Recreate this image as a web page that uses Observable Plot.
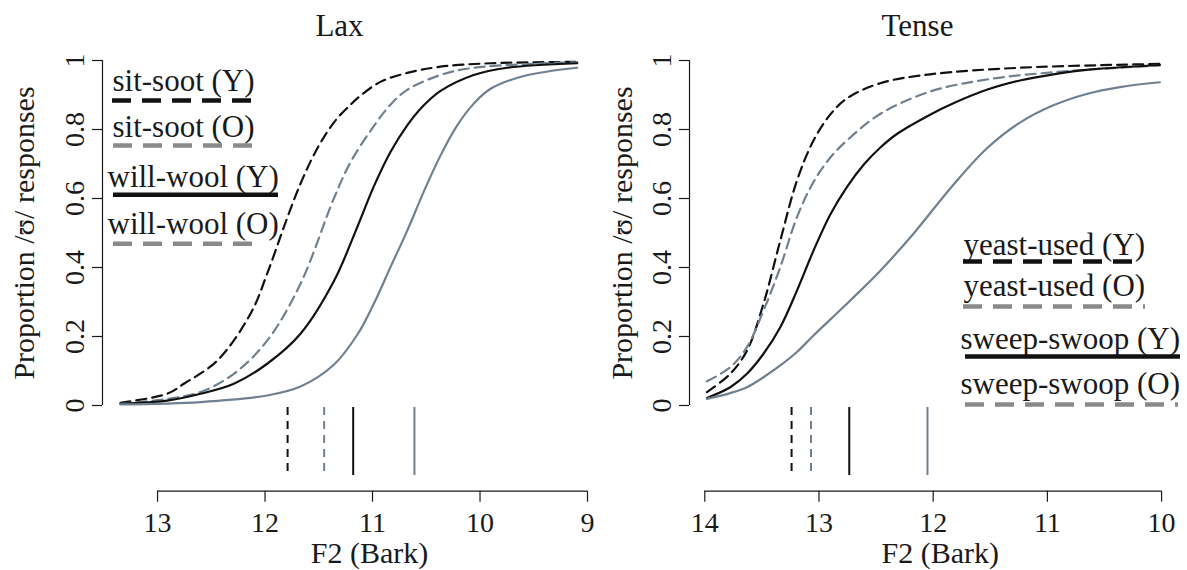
<!DOCTYPE html>
<html>
<head>
<meta charset="utf-8">
<script src="https://cdn.jsdelivr.net/npm/d3@7"></script>
<script src="https://cdn.jsdelivr.net/npm/@observablehq/plot@0.6"></script>
<style>
  html, body { margin: 0; padding: 0; background: #fff; }
  #chart { display: flex; width: 1187px; height: 570px; overflow: hidden; }
  #chart svg { flex: none; font-family: "Liberation Serif", "DejaVu Serif", serif; }
</style>
</head>
<body>
<div id="chart"></div>
<script>
// ---------------- DATA ----------------
const panelTitles = ["Lax", "Tense"];
const xTitle = "F2 (Bark)";
const yTitle = "Proportion /ʊ/ responses";
const yTicks = [0, 0.2, 0.4, 0.6, 0.8, 1];
const laxXTicks = [13, 12, 11, 10, 9];
const tenseXTicks = [14, 13, 12, 11, 10];

const laxLabels = ["sit-soot (Y)", "sit-soot (O)", "will-wool (Y)", "will-wool (O)"];
const tenseLabels = ["yeast-used (Y)", "yeast-used (O)", "sweep-swoop (Y)", "sweep-swoop (O)"];

// 50% crossover boundaries (Bark)
const laxCrossover = [11.79, 11.45, 11.18, 10.61];
const tenseCrossover = [13.24, 13.07, 12.735, 12.05];

// Lax: sit-soot (Y)
const laxSitSootY_F2 = [13.344, 12.910, 12.755, 12.445, 12.135, 11.980, 11.825, 11.670, 11.514, 11.360, 11.205, 11.112, 10.926, 10.677, 10.367, 9.902, 9.096];
const laxSitSootY_P  = [0.008, 0.034, 0.063, 0.130, 0.266, 0.382, 0.517, 0.643, 0.745, 0.820, 0.872, 0.898, 0.938, 0.964, 0.982, 0.992, 0.996];
// Lax: sit-soot (O)
const laxSitSootO_F2 = [13.344, 12.910, 12.600, 12.290, 11.980, 11.670, 11.360, 11.205, 10.988, 10.833, 10.677, 10.367, 10.058, 9.096];
const laxSitSootO_P  = [0.005, 0.019, 0.039, 0.092, 0.188, 0.353, 0.600, 0.705, 0.810, 0.872, 0.915, 0.958, 0.979, 0.995];
// Lax: will-wool (Y)
const laxWillWoolY_F2 = [13.344, 12.910, 12.600, 12.290, 11.980, 11.670, 11.360, 11.142, 10.988, 10.833, 10.677, 10.523, 10.367, 10.058, 9.747, 9.096];
const laxWillWoolY_P  = [0.005, 0.014, 0.034, 0.063, 0.121, 0.208, 0.360, 0.517, 0.635, 0.735, 0.812, 0.870, 0.912, 0.958, 0.979, 0.992];
// Lax: will-wool (O)
const laxWillWoolO_F2 = [13.344, 12.600, 11.980, 11.670, 11.360, 11.142, 10.988, 10.833, 10.677, 10.523, 10.367, 10.212, 10.058, 9.902, 9.593, 9.096];
const laxWillWoolO_P  = [0.003, 0.010, 0.029, 0.055, 0.118, 0.205, 0.295, 0.401, 0.507, 0.620, 0.725, 0.812, 0.875, 0.918, 0.955, 0.979];

// Tense: yeast-used (Y)
const tenseYeastY_F2 = [13.981, 13.777, 13.631, 13.486, 13.339, 13.193, 13.048, 12.902, 12.756, 12.465, 12.027, 11.240, 10.015];
const tenseYeastY_P  = [0.039, 0.092, 0.159, 0.295, 0.478, 0.652, 0.768, 0.843, 0.890, 0.934, 0.960, 0.979, 0.990];
// Tense: yeast-used (O)
const tenseYeastO_F2 = [13.981, 13.777, 13.631, 13.486, 13.339, 13.193, 13.048, 12.902, 12.756, 12.465, 12.027, 11.531, 10.948, 10.015];
const tenseYeastO_P  = [0.070, 0.111, 0.169, 0.275, 0.401, 0.546, 0.648, 0.718, 0.768, 0.845, 0.910, 0.945, 0.966, 0.986];
// Tense: sweep-swoop (Y)
const tenseSweepY_F2 = [13.981, 13.777, 13.631, 13.486, 13.339, 13.193, 13.048, 12.902, 12.756, 12.611, 12.465, 12.318, 12.027, 11.823, 11.531, 11.240, 10.948, 10.656, 10.015];
const tenseSweepY_P  = [0.022, 0.053, 0.092, 0.150, 0.227, 0.333, 0.449, 0.553, 0.633, 0.697, 0.747, 0.787, 0.843, 0.876, 0.915, 0.942, 0.960, 0.973, 0.987];
// Tense: sweep-swoop (O)
const tenseSweepO_F2 = [13.981, 13.777, 13.631, 13.486, 13.339, 13.193, 13.048, 12.756, 12.465, 12.173, 11.823, 11.531, 11.240, 10.948, 10.656, 10.365, 10.015];
const tenseSweepO_P  = [0.019, 0.036, 0.053, 0.082, 0.116, 0.155, 0.203, 0.295, 0.390, 0.498, 0.640, 0.745, 0.820, 0.870, 0.903, 0.923, 0.937];

// ---------------- STYLE / LAYOUT ----------------
const FONT = "Liberation Serif, DejaVu Serif, serif";
const INK = "#1a1a1a";
const BLACK = "#111111";
const BLUE = "#708090";
const GRAY = "#8a8a8a";
const curveStyles = [
  {stroke: BLACK, dash: "10,6"},
  {stroke: BLUE, dash: "10,6"},
  {stroke: BLACK, dash: null},
  {stroke: BLUE, dash: null}
];
const legendStyles = [
  {stroke: BLACK, dash: "19,11"},
  {stroke: GRAY, dash: "19,11"},
  {stroke: BLACK, dash: null},
  {stroke: GRAY, dash: "19,11"}
];

const H = 570;
const Y_PX0 = 405, Y_PX1 = 60, XAXIS_PX = 490.7;
const TICK_FS = 28, LABEL_FS = 30, TITLE_FS = 31, LEGEND_FS = 31;

function makeSeries(label, xs, ys) {
  return xs.map((x, i) => ({series: label, x, y: ys[i]}));
}

const panelsCfg = [
  {
    title: panelTitles[0], width: 594, axisPx: 102, xDomain: [13.512, 8.935],
    xTicks: laxXTicks, labels: laxLabels, crossover: laxCrossover,
    curves: [
      makeSeries(laxLabels[0], laxSitSootY_F2, laxSitSootY_P),
      makeSeries(laxLabels[1], laxSitSootO_F2, laxSitSootO_P),
      makeSeries(laxLabels[2], laxWillWoolY_F2, laxWillWoolY_P),
      makeSeries(laxLabels[3], laxWillWoolO_F2, laxWillWoolO_P)
    ],
    titlePx: 339, yTitlePx: 23.5, xTitleDx: -3,
    legend: [
      {tx: 112, base: 90, ly: 100, x1: 112, x2: 253},
      {tx: 112, base: 136.7, ly: 145, x1: 113, x2: 252},
      {tx: 107, base: 186.7, ly: 194.3, x1: 113, x2: 278},
      {tx: 107, base: 233.3, ly: 243.3, x1: 113, x2: 262}
    ]
  },
  {
    title: panelTitles[1], width: 593, axisPx: 95, xDomain: [14.134, 9.773],
    xTicks: tenseXTicks, labels: tenseLabels, crossover: tenseCrossover,
    curves: [
      makeSeries(tenseLabels[0], tenseYeastY_F2, tenseYeastY_P),
      makeSeries(tenseLabels[1], tenseYeastO_F2, tenseYeastO_P),
      makeSeries(tenseLabels[2], tenseSweepY_F2, tenseSweepY_P),
      makeSeries(tenseLabels[3], tenseSweepO_F2, tenseSweepO_P)
    ],
    titlePx: 323, yTitlePx: 27.7, xTitleDx: 7,
    legend: [
      {tx: 369, base: 254, ly: 261, x1: 369, x2: 548},
      {tx: 369, base: 295, ly: 306, x1: 369, x2: 551},
      {tx: 366, base: 348, ly: 356, x1: 371, x2: 586},
      {tx: 366, base: 393, ly: 404, x1: 371, x2: 584}
    ]
  }
];

function buildPanel(cfg) {
  const sx = d3.scaleLinear(cfg.xDomain, [cfg.axisPx, cfg.width]);
  const sy = d3.scaleLinear([0, 1], [Y_PX0, Y_PX1]);
  const yMin = sy.invert(XAXIS_PX);
  const x0 = cfg.xDomain[0];
  const yMid = d3.mean(d3.extent(yTicks));
  const xMid = d3.mean(d3.extent(cfg.xTicks));
  const mid = 0.32; // em shift for middle line anchor
  const T = {fontFamily: FONT, fill: INK, lineAnchor: "middle"};

  const marks = [];
  cfg.curves.forEach((data, i) => {
    marks.push(Plot.line(data, {
      x: "x", y: "y", stroke: curveStyles[i].stroke, strokeWidth: 2.2,
      strokeDasharray: curveStyles[i].dash, curve: "catmull-rom"
    }));
  });
  cfg.crossover.forEach((c, i) => {
    marks.push(Plot.ruleX([c], {
      x: d => d, y1: sy.invert(407), y2: sy.invert(475),
      stroke: curveStyles[i].stroke, strokeWidth: 2,
      strokeDasharray: curveStyles[i].dash ? "8,6" : null
    }));
  });
  // y axis
  marks.push(Plot.ruleX([x0], {y1: d3.min(yTicks), y2: d3.max(yTicks), stroke: INK, strokeWidth: 1.2}));
  marks.push(Plot.ruleY(yTicks, {y: d => d, x1: x0, x2: sx.invert(cfg.axisPx - 10), stroke: INK, strokeWidth: 1.2}));
  marks.push(Plot.text(yTicks, {
    ...T, x: x0, y: d => d, text: d => String(d), rotate: -90, dx: -27,
    fontSize: TICK_FS, textAnchor: "middle"
  }));
  marks.push(Plot.text([yTitle], {
    ...T, x: x0, y: yMid, text: d => d, rotate: -90, dx: cfg.yTitlePx - cfg.axisPx,
    fontSize: LABEL_FS, textAnchor: "middle"
  }));
  // x axis
  marks.push(Plot.ruleY([yMin], {y: d => d, x1: d3.max(cfg.xTicks), x2: d3.min(cfg.xTicks), stroke: INK, strokeWidth: 1.2}));
  marks.push(Plot.ruleX(cfg.xTicks, {x: d => d, y1: yMin, y2: sy.invert(XAXIS_PX + 11), stroke: INK, strokeWidth: 1.2}));
  marks.push(Plot.text(cfg.xTicks, {
    ...T, x: d => d, y: yMin, text: d => String(d), dy: 531 - XAXIS_PX - mid * TICK_FS,
    fontSize: TICK_FS, textAnchor: "middle"
  }));
  marks.push(Plot.text([xTitle], {
    ...T, x: xMid, y: yMin, text: d => d, dx: cfg.xTitleDx, dy: 562.5 - XAXIS_PX - mid * LABEL_FS,
    fontSize: LABEL_FS, textAnchor: "middle"
  }));
  // panel title
  marks.push(Plot.text([cfg.title], {
    ...T, x: sx.invert(cfg.titlePx), y: sy.invert(35 - mid * TITLE_FS), text: d => d,
    fontSize: TITLE_FS, textAnchor: "middle"
  }));
  // legend
  cfg.legend.forEach((L, i) => {
    marks.push(Plot.text([cfg.labels[i]], {
      ...T, x: sx.invert(L.tx), y: sy.invert(L.base - mid * LEGEND_FS), text: d => d,
      fontSize: LEGEND_FS, textAnchor: "start"
    }));
    marks.push(Plot.ruleY([sy.invert(L.ly)], {
      y: d => d, x1: sx.invert(L.x1), x2: sx.invert(L.x2),
      stroke: legendStyles[i].stroke, strokeWidth: 4.5, strokeDasharray: legendStyles[i].dash
    }));
  });

  return Plot.plot({
    width: cfg.width, height: H,
    marginLeft: cfg.axisPx, marginRight: 0, marginTop: Y_PX1, marginBottom: H - XAXIS_PX,
    x: {domain: cfg.xDomain, range: [cfg.axisPx, cfg.width], axis: null},
    y: {domain: [yMin, 1], range: [XAXIS_PX, Y_PX1], axis: null},
    style: {fontFamily: FONT, background: "#fff", color: INK, overflow: "visible"},
    marks
  });
}

const host = document.getElementById("chart");
panelsCfg.forEach(cfg => host.appendChild(buildPanel(cfg)));
</script>
</body>
</html>
